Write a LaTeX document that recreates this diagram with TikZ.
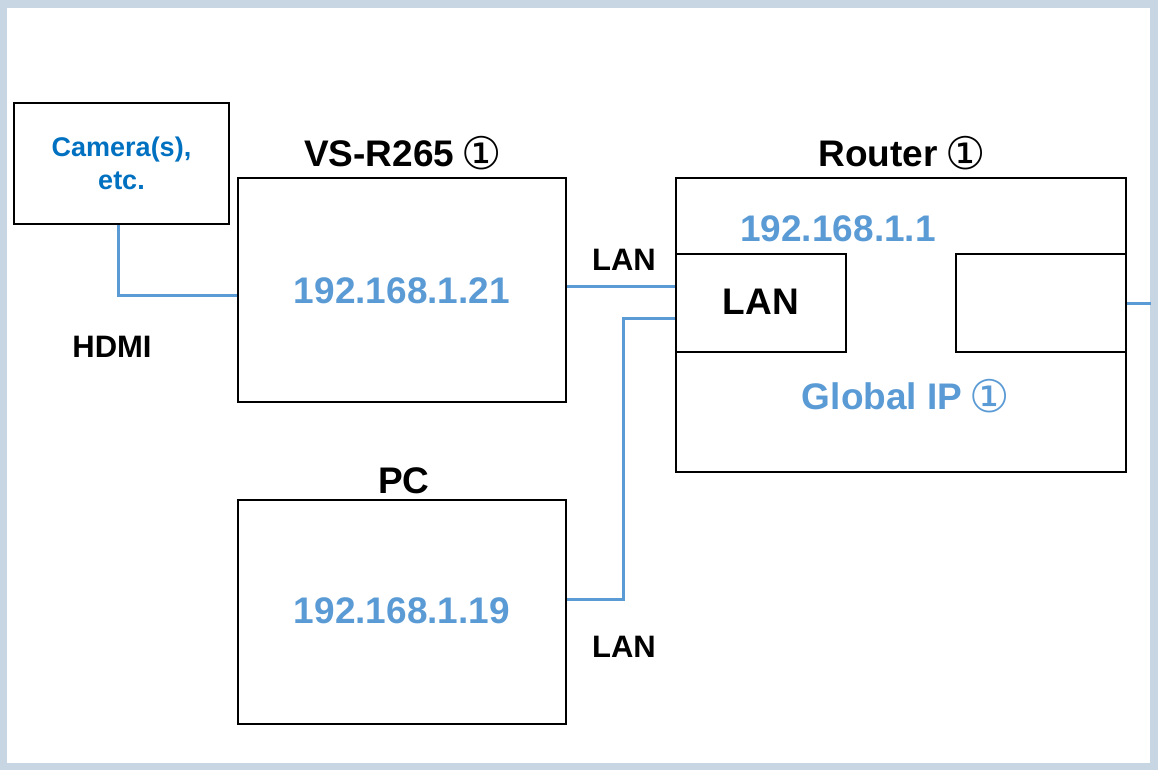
\documentclass[tikz,border=0pt]{standalone}
\usepackage{fontspec}
\setmainfont{Liberation Sans}
\newfontfamily\symfont{DejaVu Sans}
\definecolor{framegray}{HTML}{C8D5E2}
\definecolor{ipblue}{HTML}{5B9BD5}
\definecolor{camblue}{HTML}{0070C0}
\newcommand{\circone}{\raisebox{-3pt}{\fontsize{45}{48}\selectfont\symfont\mdseries ①}}
\begin{document}
\begin{tikzpicture}[x=1pt,y=-1pt,
  box/.style={draw=black,line width=2.4pt,fill=white,inner sep=0pt},
  wire/.style={draw=ipblue,line width=3pt},
  title/.style={font=\fontsize{37}{44}\selectfont\bfseries,anchor=base,inner sep=0pt},
  iptext/.style={font=\fontsize{37}{44}\selectfont\bfseries,text=ipblue,anchor=base,inner sep=0pt},
  lbl/.style={font=\fontsize{31}{36}\selectfont\bfseries,anchor=base,inner sep=0pt},
  camtext/.style={font=\fontsize{27}{33}\selectfont\bfseries,text=camblue,align=center,inner sep=0pt}]
\useasboundingbox (0,0) rectangle (1158,770);
\fill[framegray] (0,0) rectangle (1158,770);
\fill[white] (7,8) rectangle (1150,763);

% boxes
\node[box,minimum width=215pt,minimum height=121pt] (cam) at (121.5,163.5) {};
\node[camtext] (camt) at (cam.center) {Camera(s),\\etc.};
\node[box,minimum width=328pt,minimum height=224pt] (vs) at (402,290) {};
\node[box,minimum width=328pt,minimum height=224pt] (pc) at (402,612) {};
\node[box,minimum width=450pt,minimum height=294pt] (rt) at (901,325) {};
\node[box,minimum width=170pt,minimum height=98pt] (rlan) at (761,303) {};
\node[box,minimum width=170pt,minimum height=98pt] (rwan) at (1041,303) {};

% texts
\node[title] (vst) at (403,167) {VS-R265\hspace{0.2em}\circone};
\node[title] (rtt) at (902,167) {Router\hspace{0.2em}\circone};
\node[title] (pct) at (404,493) {PC};
\node[iptext] (vsip) at (402,303) {192.168.1.21};
\node[iptext] (pcip) at (402,623) {192.168.1.19};
\node[iptext] (rtip) at (838,241) {192.168.1.1};
\node[iptext] (gip) at (906,409) {Global IP\hspace{0.2em}\circone};
\node[title] (lant) at (761,314) {LAN};
\node[lbl] (hdmi) at (112,357) {HDMI};
\node[lbl] (lan1) at (624,270) {LAN};
\node[lbl] (lan2) at (624,657) {LAN};

% connectors
\coordinate (edge) at (1151,303);
\draw[wire] (cam.south -| 118,0) |- (vs.west |- 0,295);
\draw[wire] (vs.east |- 0,286) -- (rlan.west |- 0,286);
\draw[wire] (pc.east |- 0,599) -| (623,318) -- (rlan.west |- 0,318);
\draw[wire] (rwan.east) -- (edge);
\end{tikzpicture}
\end{document}
